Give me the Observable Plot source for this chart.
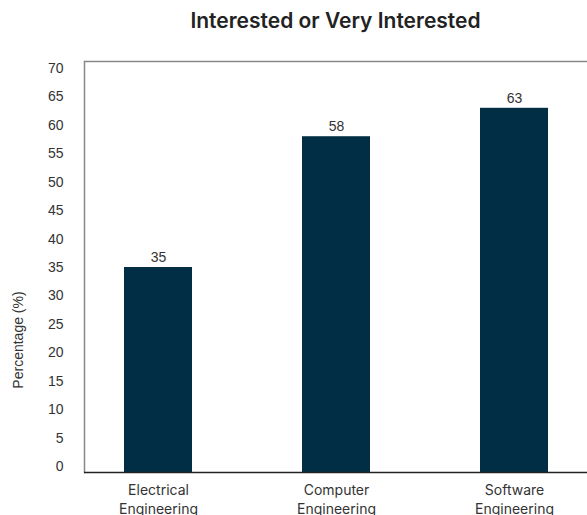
<!DOCTYPE html>
<html>
<head>
<meta charset="utf-8">
<script src="https://cdn.jsdelivr.net/npm/d3@7"></script>
<script src="https://cdn.jsdelivr.net/npm/@observablehq/plot@0.6"></script>
<style>
  html, body { margin: 0; padding: 0; background: #fff; }
  #wrap { position: relative; width: 587px; height: 515px; overflow: hidden; }
  #title { height: 42px; line-height: 42px; padding-left: 84px; text-align: center;
           font-family: Inter, sans-serif; font-weight: 600; font-size: 21px; color: #222; }
  #ylab { position: absolute; left: 18px; top: 340px; transform: translate(-50%, -50%) rotate(-90deg);
          white-space: nowrap; font-family: "Liberation Sans", Arial, sans-serif; font-size: 14px; color: #333; }
</style>
</head>
<body>
<div id="wrap">
  <div id="title">Interested or Very Interested</div>
  <div id="ylab">Percentage (%)</div>
  <div id="chart"></div>
</div>
<script>
const categories = ["Electrical Engineering", "Computer Engineering", "Software Engineering"];
const values = [35, 58, 63];
const yTicks = [0, 5, 10, 15, 20, 25, 30, 35, 40, 45, 50, 55, 60, 65, 70];

const data = categories.map((c, i) => ({category: c, value: values[i]}));
const yMin = -1.055, yMax = 71.23;

const chart = Plot.plot({
  width: 587,
  height: 473,
  marginLeft: 84,
  marginRight: -3,
  marginTop: 19,
  marginBottom: 43,
  style: {fontFamily: "'Liberation Sans', Arial, sans-serif", fontSize: "14px", color: "#333", overflow: "visible"},
  x: {domain: categories, range: [69, 603], paddingInner: 0.62, paddingOuter: 0.31, label: null},
  y: {domain: [yMin, yMax], label: null},
  marks: [
    Plot.rectY(data, {x: "category", y1: yMin, y2: "value", fill: "#022e45"}),
    Plot.text(data, {x: "category", y: "value", text: d => String(d.value), dy: -10, fontSize: 14, fill: "#333"}),
    Plot.axisY({ticks: yTicks, tickSize: 0, tickPadding: 21, fontSize: 14, fill: "#333", label: null}),
    Plot.axisX({tickSize: 0, tickPadding: 9, fontSize: 14, fill: "#333", lineHeight: 1.35,
                fontFamily: "Inter, sans-serif",
                tickFormat: d => d.replace(" ", "\n"), label: null}),
    Plot.ruleY([yMax], {stroke: "#888", strokeWidth: 1.5}),
    Plot.frame({anchor: "left", stroke: "#888", strokeWidth: 1.5}),
    Plot.ruleY([yMin], {stroke: "#222", strokeWidth: 1.5})
  ]
});
document.getElementById("chart").appendChild(chart);
</script>
</body>
</html>
